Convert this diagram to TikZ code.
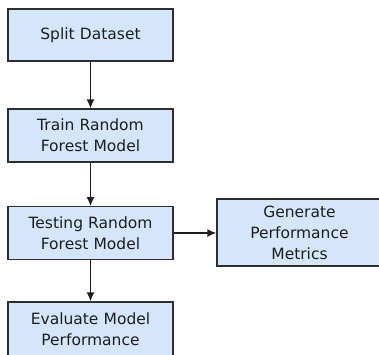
\documentclass[tikz,border=0pt]{standalone}
\usepackage{fontspec}
\setmainfont{DejaVu Sans}
\usetikzlibrary{arrows.meta}
\definecolor{boxfill}{HTML}{D4E6FC}
\definecolor{boxline}{HTML}{2E2E2E}
\definecolor{ink}{HTML}{1E1E1E}
\tikzset{
  stepbox/.style={draw=boxline, fill=boxfill, line width=1.2pt,
    minimum width=165pt, inner sep=0pt, text width=160pt, align=center,
    text=ink, font=\fontsize{15.5}{21}\selectfont},
  flow/.style={draw=ink, line width=1.5pt,
    -{Latex[length=9pt,width=8pt]}}
}
\begin{document}
\begin{tikzpicture}[x=1pt,y=-1pt]
  \useasboundingbox (0,0) rectangle (379,354);
  \node[stepbox, minimum height=52pt] (split) at (90.5,35) {Split Dataset};
  \node[stepbox, minimum height=53pt] (train) at (90.5,135.5) {Train Random\\Forest Model};
  \node[stepbox, minimum height=52.5pt] (test) at (90.5,233) {Testing Random\\Forest Model};
  \node[stepbox, minimum height=67pt] (metrics) at (299.5,232.5) {Generate\\Performance\\Metrics};
  \node[stepbox, minimum height=55pt] (eval) at (90.5,329.5) {Evaluate Model\\Performance};
  \draw[flow] (split) -- (train);
  \draw[flow] (train) -- (test);
  \draw[flow] (test) -- (test -| metrics.west);
  \draw[flow] (test) -- (eval);
\end{tikzpicture}
\end{document}
